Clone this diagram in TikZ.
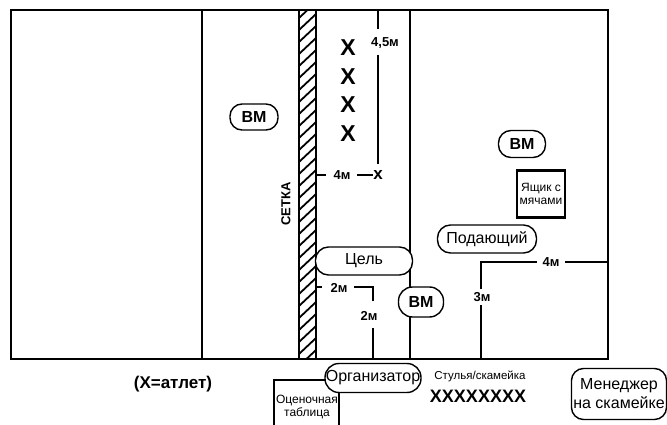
\documentclass[tikz,border=0pt]{standalone}
\usepackage{fontspec}
\setmainfont{Liberation Sans}
\begin{document}
\begin{tikzpicture}[x=1pt,y=-1pt,
  court/.style={line width=2.6pt},
  dimline/.style={line width=2.8pt},
  pill/.style={draw, line width=1.4pt, inner sep=0pt},
  pilltext/.style={font=\fontsize{16}{18}\selectfont},
  bmtext/.style={font=\fontsize{16}{18}\selectfont\bfseries},
  dimlabel/.style={font=\fontsize{13}{14}\selectfont\bfseries, inner sep=1pt},
  bigx/.style={font=\fontsize{23}{24}\selectfont\bfseries, inner sep=0pt},
  small/.style={font=\fontsize{12}{13.5}\selectfont, align=center, inner sep=0pt}]
\useasboundingbox (0,0) rectangle (667,425);
% court
\draw[court] (11,10) rectangle (608,359);
\draw[court] (202,10) -- (202,359);
\draw[court] (410,10) -- (410,359);
% net
\begin{scope}
  \clip (299,10) rectangle (316,359);
  \foreach \y in {-10,2,...,370} \draw[line width=1.8pt] (299,\y+16) -- (316,\y);
\end{scope}
\draw[line width=2.2pt] (299,10) rectangle (316,359);
\node[rotate=90, font=\fontsize{13}{14}\selectfont\bfseries] (net) at (286,204) {СЕТКА};
% athletes column
\node[bigx] (x1) at (348,48) {X};
\node[bigx] (x2) at (348,77) {X};
\node[bigx] (x3) at (348,105) {X};
\node[bigx] (x4) at (348,134) {X};
% 4,5 m
\coordinate (a1) at (378,10);
\coordinate (a2) at (378,29);
\node[dimlabel] (l45) at (385,43) {4,5м};
\coordinate (a3) at (378,55);
\coordinate (a4) at (378,164);
\draw[dimline] (a1) -- (a2);
\draw[dimline] (a3) -- (a4);
\node[font=\fontsize{17}{17}\selectfont\bfseries, inner sep=0pt] (xs) at (378,175) {x};
% 4 m
\coordinate (b1) at (316,175);
\coordinate (b2) at (326,175);
\node[dimlabel] (l4a) at (342,175) {4м};
\coordinate (b3) at (357,175);
\draw[dimline] (b1) -- (b2);
\draw[dimline] (b3) -- (xs.west);
% BM nodes
\node[pill, minimum width=48pt, minimum height=26pt, rounded corners=12pt, bmtext] (bm1) at (254,117) {ВМ};
\node[pill, minimum width=47pt, minimum height=27pt, rounded corners=12.5pt, bmtext] (bm2) at (522,144) {ВМ};
\node[pill, fill=white, minimum width=45pt, minimum height=30pt, rounded corners=14pt, bmtext] (bm3) at (421,302) {ВМ};
% target
\node[pill, fill=white, minimum width=97pt, minimum height=28pt, rounded corners=13pt, pilltext] (goal) at (364,261) {Цель};
% 2 m lines
\coordinate (c1) at (316,287);
\coordinate (c2) at (322,287);
\node[dimlabel] (l2a) at (339,288) {2м};
\coordinate (c3) at (354,287);
\coordinate (c4) at (373,287);
\coordinate (c5) at (373,301);
\node[dimlabel] (l2b) at (369,316) {2м};
\coordinate (c6) at (373,328);
\coordinate (c7) at (373,359);
\draw[dimline] (c1) -- (c2);
\draw[dimline] (c3) -- (c4) -- (c5);
\draw[dimline] (c6) -- (c7);
% ball box
\node[draw, line width=2.6pt, minimum width=48pt, minimum height=47pt, inner sep=0pt, small] (box) at (541,194) {Ящик с\\мячами};
% server
\node[pill, minimum width=99pt, minimum height=28pt, rounded corners=13pt, pilltext] (server) at (487,239) {Подающий};
% 4 m / 3 m
\coordinate (d0) at (481,262);
\coordinate (d1) at (537,262);
\node[dimlabel] (l4b) at (551,262) {4м};
\coordinate (d2) at (565,262);
\coordinate (d3) at (608,262);
\coordinate (d4) at (481,289);
\node[dimlabel] (l3) at (482,297) {3м};
\coordinate (d5) at (481,305);
\coordinate (d6) at (481,359);
\draw[dimline] (d4) -- (d0) -- (d1);
\draw[dimline] (d2) -- (d3);
\draw[dimline] (d5) -- (d6);
% bottom
\node[font=\fontsize{17}{19}\selectfont\bfseries] (legend) at (173,384) {(X=атлет)};
\draw[line width=2.4pt] (274,426) -- (274,380) -- (339,380) -- (339,426);
\node[small] (score) at (307,407) {Оценочная\\таблица};
\node[pill, fill=white, minimum width=96pt, minimum height=29pt, rounded corners=14pt, pilltext] (org) at (373,378) {Организатор};
\node[font=\fontsize{11.5}{13}\selectfont, inner sep=0pt] (chairs) at (480,376) {Стулья/скамейка};
\node[font=\fontsize{18}{19}\selectfont\bfseries, inner sep=0pt] (bench) at (478,396) {XXXXXXXX};
\node[pill, minimum width=95pt, minimum height=51pt, rounded corners=12pt, align=center,
  font=\fontsize{16}{19}\selectfont] (mgr) at (619,394) {Менеджер\\на скамейке};
\end{tikzpicture}
\end{document}
